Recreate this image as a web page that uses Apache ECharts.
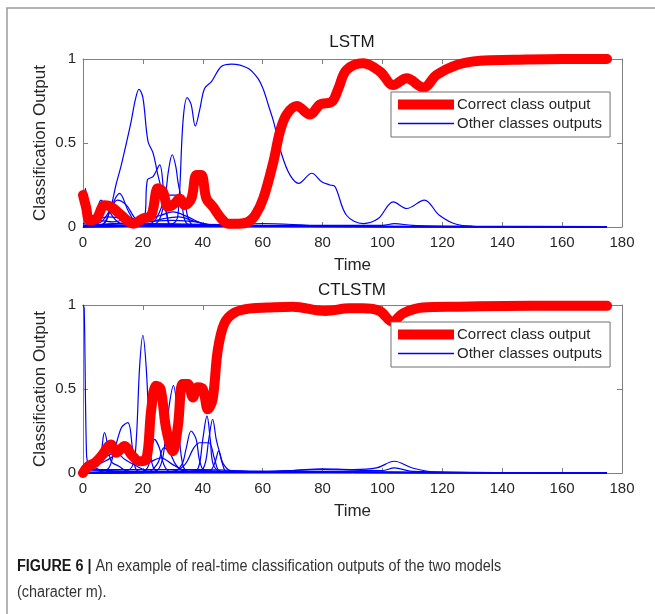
<!DOCTYPE html>
<html>
<head>
<meta charset="utf-8">
<script src="https://cdn.jsdelivr.net/npm/echarts@6/dist/echarts.min.js"></script>
<style>
  html, body { margin: 0; padding: 0; background: #ffffff; }
  #chart { width: 655px; height: 614px; }
</style>
</head>
<body>
<div id="chart"></div>
<script>
// ---------- data ----------
const xTicks = [0, 20, 40, 60, 80, 100, 120, 140, 160, 180];
const yTicks = [0, 0.5, 1];
const seriesNames = ['Correct class output', 'Other classes outputs'];
const panelTitles = ['LSTM', 'CTLSTM'];

// LSTM – correct class output
const lstmCorrectT = [0, 1, 2.2, 4.5, 7.2, 9.4, 12.8, 16.7, 20, 22.8, 25, 26.7, 28.4, 30.6, 32.3, 34, 36.2, 37.9, 39.5, 41.2, 43.4, 46.2, 48.4, 52, 55.1, 57.5, 60.2, 63.6, 65.8, 68, 71.4, 75.8, 79.2, 83.1, 85.3, 88, 93.6, 99.2, 103.6, 108.1, 113.7, 118.1, 124.8, 132.6, 143.7, 160, 175];
const lstmCorrectV = [0.19, 0.12, 0.04, 0.05, 0.13, 0.12, 0.07, 0.02, 0.05, 0.07, 0.23, 0.21, 0.12, 0.14, 0.17, 0.13, 0.17, 0.31, 0.31, 0.17, 0.12, 0.05, 0.02, 0.02, 0.03, 0.07, 0.17, 0.39, 0.57, 0.67, 0.72, 0.67, 0.73, 0.745, 0.825, 0.935, 0.975, 0.925, 0.845, 0.885, 0.83, 0.905, 0.965, 0.99, 0.995, 1.0, 1.0];

// LSTM – other classes outputs (one time list and one value list per class)
const lstmOtherT = [
  [0, 10, 25, 30, 31.7, 33.4, 34.8, 36.1, 37.5, 39, 40.6, 42.9, 46.2, 49.6, 55.1, 58.4, 60.2, 62, 63.6, 66.4, 69.1, 72, 76.4, 79.7, 82.5, 84.2, 88, 93.6, 98.6, 103.6, 108.1, 114, 119, 125, 135, 175],
  [0, 6, 8, 9.5, 11, 12.8, 14.5, 16.1, 17.5, 18.7, 20, 21.7, 23.4, 25, 26.7, 28, 29.5, 40, 175],
  [0, 20, 25, 27.5, 28.5, 29.8, 31, 31.7, 33, 34, 36, 175],
  [0, 18, 20.5, 21.5, 23.4, 25.6, 27, 28, 29.5, 175],
  [0, 20, 24, 27, 28.5, 31, 33.5, 35, 37, 175],
  [0, 0.8, 1.8, 3, 6, 175],
  [0, 3, 4.5, 6, 8, 10, 13, 175],
  [0, 7, 9, 12.2, 15, 17, 20, 175],
  [0, 6, 9, 11.5, 14.5, 17, 19, 22, 175],
  [0, 4, 8, 14, 20, 26, 30, 35, 40, 45, 175],
  [0, 5, 10, 16, 22, 27, 32, 38, 45, 175],
  [0, 20, 50, 60, 80, 100, 104, 110, 130, 175],
  [0, 10, 20, 30, 38, 42, 50, 175]
];
const lstmOtherV = [
  [0.01, 0.01, 0.01, 0.02, 0.07, 0.63, 0.77, 0.73, 0.6, 0.7, 0.825, 0.865, 0.955, 0.97, 0.945, 0.885, 0.82, 0.72, 0.63, 0.43, 0.31, 0.26, 0.32, 0.27, 0.25, 0.24, 0.07, 0.02, 0.05, 0.15, 0.11, 0.16, 0.07, 0.015, 0.002, 0],
  [0, 0.01, 0.05, 0.13, 0.25, 0.37, 0.5, 0.63, 0.76, 0.82, 0.77, 0.51, 0.44, 0.31, 0.19, 0.07, 0.01, 0.005, 0],
  [0, 0.01, 0.03, 0.19, 0.33, 0.43, 0.36, 0.27, 0.15, 0.04, 0.01, 0],
  [0, 0.01, 0.05, 0.28, 0.3, 0.37, 0.2, 0.08, 0.01, 0],
  [0, 0.01, 0.04, 0.15, 0.19, 0.19, 0.18, 0.06, 0.01, 0],
  [0.1, 0.23, 0.05, 0.01, 0.005, 0],
  [0, 0.02, 0.08, 0.16, 0.12, 0.06, 0.02, 0],
  [0, 0.02, 0.1, 0.2, 0.1, 0.04, 0.01, 0],
  [0, 0.03, 0.1, 0.16, 0.13, 0.06, 0.02, 0.005, 0],
  [0, 0.03, 0.06, 0.05, 0.04, 0.07, 0.09, 0.06, 0.02, 0.005, 0],
  [0.02, 0.04, 0.03, 0.05, 0.03, 0.05, 0.06, 0.03, 0.01, 0],
  [0.01, 0.02, 0.015, 0.02, 0.01, 0.01, 0.02, 0.01, 0.005, 0.003],
  [0.01, 0.02, 0.03, 0.04, 0.03, 0.01, 0.005, 0]
];

// CTLSTM – correct class output
const ctlstmCorrectT = [0, 1.7, 3.9, 6.1, 9.4, 11.1, 13.9, 16.1, 18.9, 21.1, 22.8, 24.4, 25.9, 27.8, 30, 31.7, 33.3, 35, 36.7, 38.3, 40, 41.7, 43.3, 45, 47.2, 50.6, 56.1, 61.7, 70, 81, 89, 93.4, 99, 103.4, 106.8, 113.4, 125, 150, 175];
const ctlstmCorrectV = [0, 0.04, 0.06, 0.1, 0.17, 0.12, 0.16, 0.11, 0.07, 0.08, 0.38, 0.52, 0.5, 0.26, 0.13, 0.28, 0.53, 0.53, 0.45, 0.51, 0.5, 0.38, 0.44, 0.73, 0.89, 0.955, 0.98, 0.985, 0.99, 0.965, 0.98, 0.98, 0.965, 0.9, 0.95, 0.985, 0.99, 0.995, 0.995];

// CTLSTM – other classes outputs
const ctlstmOtherT = [
  [0, 0.4, 1.2, 2, 4, 8, 175],
  [0, 14, 16.7, 17.8, 18.9, 20, 21.1, 22.2, 23, 25, 175],
  [0, 24, 26.5, 28.3, 30.2, 31.7, 33, 35, 175],
  [0, 36, 38.5, 40, 41.4, 42.5, 43.5, 46, 175],
  [0, 38, 40.5, 42, 43.3, 44.5, 45.5, 47, 50, 175],
  [0, 42, 44, 45.3, 46.5, 48, 175],
  [0, 30, 33, 34.5, 36.1, 37.8, 39, 41, 175],
  [0, 3, 5.5, 7.2, 9.4, 12, 15, 175],
  [0, 8, 10, 12.8, 15, 16.5, 17.5, 19, 175],
  [0, 20, 22, 23.9, 25.5, 27, 29, 175],
  [0, 30, 34, 37, 39, 42, 44, 46, 175],
  [0, 22, 25, 27, 29, 31, 34, 175],
  [0, 5, 10, 13, 17, 21, 26, 30, 35, 175],
  [0, 4, 8, 11, 14, 18, 22, 175],
  [0, 30, 50, 60, 70, 80, 90, 98, 104, 110, 118, 140, 175],
  [0, 20, 40, 60, 80, 100, 104, 110, 175]
];
const ctlstmOtherV = [
  [1.0, 0.98, 0.1, 0.05, 0.03, 0.01, 0],
  [0, 0.01, 0.05, 0.2, 0.63, 0.82, 0.63, 0.24, 0.06, 0.01, 0],
  [0, 0.01, 0.08, 0.34, 0.52, 0.34, 0.08, 0.01, 0],
  [0, 0.01, 0.03, 0.2, 0.34, 0.2, 0.05, 0.01, 0],
  [0, 0.01, 0.04, 0.2, 0.32, 0.2, 0.13, 0.05, 0.01, 0],
  [0, 0.01, 0.06, 0.13, 0.06, 0.01, 0],
  [0, 0.01, 0.05, 0.15, 0.25, 0.2, 0.07, 0.01, 0],
  [0.02, 0.03, 0.07, 0.24, 0.07, 0.04, 0.01, 0],
  [0, 0.02, 0.1, 0.27, 0.3, 0.15, 0.03, 0.01, 0],
  [0, 0.01, 0.05, 0.2, 0.15, 0.05, 0.01, 0],
  [0, 0.01, 0.05, 0.15, 0.18, 0.18, 0.08, 0.01, 0],
  [0, 0.01, 0.06, 0.15, 0.12, 0.05, 0.01, 0],
  [0.01, 0.05, 0.1, 0.17, 0.08, 0.06, 0.09, 0.05, 0.01, 0],
  [0.01, 0.04, 0.1, 0.12, 0.08, 0.04, 0.01, 0],
  [0.02, 0.02, 0.01, 0.01, 0.015, 0.025, 0.02, 0.03, 0.07, 0.03, 0.005, 0.002, 0],
  [0.01, 0.02, 0.02, 0.01, 0.02, 0.015, 0.03, 0.01, 0]
];

const captionBold = 'FIGURE 6 |';
const captionLine1 = ' An example of real-time classification outputs of the two models';
const captionLine2 = '(character m).';

// ---------- build ----------
const FONT = '"Liberation Sans", Arial, Helvetica, sans-serif';
const AXIS_GRAY = '#808080';
const TEXT_DARK = '#262626';

function zip(t, v) { return t.map((x, i) => [x, v[i]]); }

const grids = [
  { left: 83, right: 33, top: 59, height: 168 },
  { left: 83, right: 33, top: 305, height: 168 }
];

const xAxes = [], yAxes = [];
grids.forEach((g, gi) => {
  const base = {
    type: 'value', gridIndex: gi, min: xTicks[0], max: xTicks[xTicks.length - 1],
    interval: xTicks[1] - xTicks[0], splitLine: { show: false },
    axisLine: { show: true, onZero: false, lineStyle: { color: AXIS_GRAY, width: 1 } },
    axisTick: { show: true, inside: true, length: 5, lineStyle: { color: AXIS_GRAY } }
  };
  xAxes.push(Object.assign({}, base, {
    position: 'bottom',
    axisLabel: { color: TEXT_DARK, fontSize: 15, fontFamily: FONT, margin: 8 },
    name: 'Time', nameLocation: 'middle', nameGap: 30, nameMoveOverlap: false,
    nameTextStyle: { color: TEXT_DARK, fontSize: 17, fontFamily: FONT }
  }));
  xAxes.push(Object.assign({}, base, { position: 'top', axisLabel: { show: false } }));

  const ybase = {
    type: 'value', gridIndex: gi, min: yTicks[0], max: yTicks[yTicks.length - 1],
    interval: yTicks[1] - yTicks[0], splitLine: { show: false },
    axisLine: { show: true, onZero: false, lineStyle: { color: AXIS_GRAY, width: 1 } },
    axisTick: { show: true, inside: true, length: 5, lineStyle: { color: AXIS_GRAY } }
  };
  yAxes.push(Object.assign({}, ybase, {
    position: 'left',
    axisLabel: { color: TEXT_DARK, fontSize: 15, fontFamily: FONT, margin: 7 },
    name: 'Classification Output', nameLocation: 'middle', nameGap: 34, nameMoveOverlap: false,
    nameTextStyle: { color: TEXT_DARK, fontSize: 17, fontFamily: FONT }
  }));
  yAxes.push(Object.assign({}, ybase, { position: 'right', axisLabel: { show: false } }));
});

const series = [];
function addPanel(gi, otherT, otherV, corrT, corrV) {
  otherT.forEach((t, i) => {
    series.push({
      type: 'line', name: seriesNames[1], xAxisIndex: gi * 2, yAxisIndex: gi * 2,
      data: zip(t, otherV[i]), showSymbol: false, smooth: 0.35, clip: true,
      lineStyle: { color: '#0000ff', width: 1.2 }, itemStyle: { color: '#0000ff' },
      z: 2, silent: true
    });
  });
  series.push({
    type: 'line', name: seriesNames[0], xAxisIndex: gi * 2, yAxisIndex: gi * 2,
    data: zip(corrT, corrV), showSymbol: false, smooth: 0.35, clip: false,
    lineStyle: { color: '#ff0000', width: 10, cap: 'round', join: 'round' },
    itemStyle: { color: '#ff0000' }, z: 5, silent: true
  });
}
addPanel(0, lstmOtherT, lstmOtherV, lstmCorrectT, lstmCorrectV);
addPanel(1, ctlstmOtherT, ctlstmOtherV, ctlstmCorrectT, ctlstmCorrectV);

function makeLegend(top) {
  return {
    orient: 'vertical', left: 391, top: top,
    padding: [4, 8, 5, 7], itemGap: 2, itemWidth: 56, itemHeight: 10,
    backgroundColor: '#ffffff', borderColor: '#707070', borderWidth: 1,
    selectedMode: false, z: 10,
    textStyle: { color: TEXT_DARK, fontSize: 15, fontFamily: FONT, lineHeight: 17, padding: [0, 0, 0, -2] },
    data: [
      { name: seriesNames[0], icon: 'rect', itemStyle: { color: '#ff0000', borderWidth: 0 } },
      { name: seriesNames[1], icon: 'path://M0,0H56V1.3H0Z', itemStyle: { color: '#0000ff', borderWidth: 0 } }
    ]
  };
}

const chart = echarts.init(document.getElementById('chart'), null, { renderer: 'canvas' });
chart.setOption({
  animation: false,
  backgroundColor: '#ffffff',
  grid: grids,
  xAxis: xAxes,
  yAxis: yAxes,
  legend: [makeLegend(92), makeLegend(322)],
  series: series,
  graphic: [
    { type: 'rect', shape: { x: 7, y: 8, width: 680, height: 640 }, style: { fill: 'none', stroke: '#9a9a9a', lineWidth: 1.5 }, silent: true },
    { type: 'text', x: 352, y: 42, style: { text: panelTitles[0], font: '17px ' + FONT, fill: '#1a1a1a', align: 'center', verticalAlign: 'middle' } },
    { type: 'text', x: 352, y: 290, style: { text: panelTitles[1], font: '17px ' + FONT, fill: '#1a1a1a', align: 'center', verticalAlign: 'middle' } },
    { type: 'text', x: 17, y: 567, scaleX: 0.9,
      style: { text: '{b|' + captionBold + '}' + captionLine1, font: '16px ' + FONT, fill: '#333333', verticalAlign: 'middle',
        rich: { b: { fontWeight: 'bold', fontSize: 16, fontFamily: FONT, fill: '#1a1a1a' } } } },
    { type: 'text', x: 17, y: 593, scaleX: 0.9,
      style: { text: captionLine2, font: '16px ' + FONT, fill: '#333333', verticalAlign: 'middle' } }
  ]
});
</script>
</body>
</html>
